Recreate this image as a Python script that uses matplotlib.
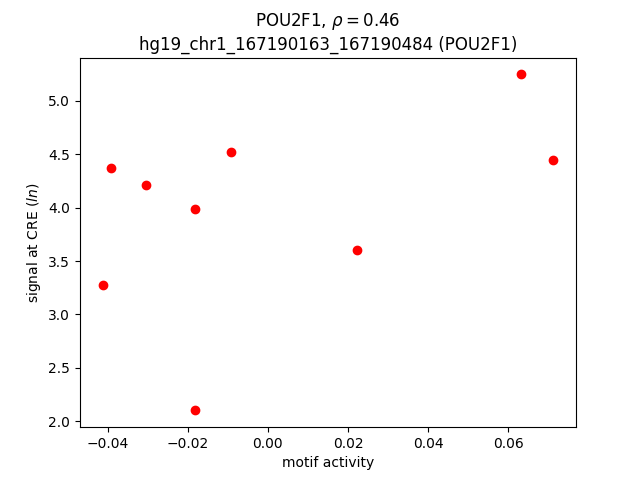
import matplotlib
matplotlib.use("Agg")
import matplotlib.pyplot as plt

motif_activity = [-0.0413, -0.0392, -0.0305, -0.0181, -0.0181, -0.0092, 0.0222, 0.0632, 0.0713]
signal = [3.271, 4.367, 4.208, 3.983, 2.101, 4.517, 3.599, 5.248, 4.442]

fig, ax = plt.subplots(figsize=(6.4, 4.8), dpi=100)
ax.scatter(motif_activity, signal, c="red")
ax.set_title("POU2F1, $\\rho = 0.46$\nhg19_chr1_167190163_167190484 (POU2F1)")
ax.set_xlabel("motif activity")
ax.set_ylabel("signal at CRE ($ln$)")
fig.savefig("out.png")
